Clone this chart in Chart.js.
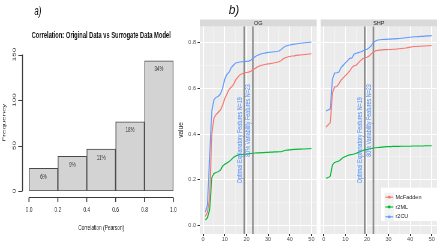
<!DOCTYPE html>
<html>
<head>
<meta charset="utf-8">
<script src="https://cdn.jsdelivr.net/npm/chart.js@4.4.1/dist/chart.umd.min.js"></script>
<style>
  html, body { margin: 0; padding: 0; background: #fff; overflow: hidden; }
  #page { position: relative; width: 440px; height: 242px; }
  #histWrap { position: absolute; left: 0; top: 0; width: 367px; height: 242px; transform: scaleX(0.6); transform-origin: 0 0; }
  canvas { position: absolute; top: 0; }
  #chartOG { left: 170px; }
  #chartSHP { left: 320px; }
</style>
</head>
<body>
<div id="page">
  <div id="histWrap"><canvas id="chartHist" width="367" height="242"></canvas></div>
  <canvas id="chartOG" width="150" height="242"></canvas>
  <canvas id="chartSHP" width="120" height="242"></canvas>
</div>
<script>
// a) histogram of correlations
const histBinCenters = [0.1, 0.3, 0.5, 0.7, 0.9];
const histCounts = [25, 38, 46, 76, 143];
const histPctLabels = ['6%', '9%', '11%', '18%', '34%'];
const histTicksX = [0, 0.2, 0.4, 0.6, 0.8, 1.0];
const histTicksY = [0, 50, 100, 150];

// b) pseudo R2 by number of features
const features = [1, 2, 3, 4, 5, 6, 7, 8, 9, 10, 11, 12, 13, 14, 15, 16, 17, 18, 19, 20,
  21, 22, 23, 24, 25, 26, 27, 28, 29, 30, 31, 32, 33, 34, 35, 36, 37, 38, 39, 40,
  41, 42, 43, 44, 45, 46, 47, 48, 49, 50];
const seriesNames = ['McFadden', 'r2ML', 'r2CU'];
const seriesColors = ['#F8766D', '#00BA38', '#619CFF'];

const ogMcFadden = [0.04, 0.06, 0.12, 0.40, 0.47, 0.485, 0.495, 0.505, 0.525, 0.555, 0.575, 0.595, 0.605, 0.615, 0.635, 0.648, 0.658, 0.663, 0.666, 0.668,
  0.67, 0.674, 0.68, 0.686, 0.692, 0.697, 0.70, 0.702, 0.704, 0.706, 0.707, 0.709, 0.711, 0.713, 0.715, 0.72, 0.728, 0.733, 0.736, 0.738,
  0.74, 0.741, 0.743, 0.744, 0.745, 0.746, 0.747, 0.748, 0.749, 0.75];
const ogR2ML = [0.025, 0.035, 0.07, 0.21, 0.228, 0.232, 0.236, 0.243, 0.26, 0.268, 0.274, 0.28, 0.288, 0.298, 0.304, 0.308, 0.31, 0.311, 0.312, 0.313,
  0.314, 0.315, 0.316, 0.317, 0.318, 0.318, 0.319, 0.319, 0.32, 0.32, 0.321, 0.321, 0.322, 0.322, 0.323, 0.323, 0.326, 0.329, 0.33, 0.331,
  0.332, 0.333, 0.333, 0.334, 0.334, 0.335, 0.335, 0.336, 0.336, 0.337];
const ogR2CU = [0.06, 0.09, 0.30, 0.50, 0.55, 0.56, 0.565, 0.575, 0.60, 0.64, 0.66, 0.67, 0.69, 0.70, 0.71, 0.712, 0.714, 0.715, 0.716, 0.717,
  0.718, 0.722, 0.73, 0.737, 0.743, 0.747, 0.75, 0.752, 0.754, 0.756, 0.757, 0.758, 0.759, 0.76, 0.762, 0.768, 0.777, 0.783, 0.786, 0.788,
  0.79, 0.792, 0.793, 0.795, 0.796, 0.797, 0.798, 0.799, 0.80, 0.80];

const shpMcFadden = [0.43, 0.44, 0.45, 0.58, 0.605, 0.607, 0.62, 0.635, 0.645, 0.655, 0.665, 0.675, 0.69, 0.698, 0.70, 0.71, 0.72, 0.728, 0.732, 0.735,
  0.74, 0.75, 0.758, 0.763, 0.765, 0.766, 0.767, 0.768, 0.768, 0.769, 0.769, 0.77, 0.77, 0.771, 0.772, 0.773, 0.774, 0.775, 0.777, 0.779,
  0.781, 0.782, 0.782, 0.783, 0.783, 0.784, 0.784, 0.785, 0.785, 0.786];
const shpR2ML = [0.207, 0.21, 0.216, 0.265, 0.276, 0.279, 0.282, 0.29, 0.298, 0.302, 0.306, 0.309, 0.311, 0.313, 0.316, 0.32, 0.324, 0.328, 0.331, 0.333,
  0.335, 0.337, 0.339, 0.34, 0.341, 0.342, 0.343, 0.344, 0.345, 0.345, 0.345, 0.346, 0.346, 0.346, 0.346, 0.347, 0.347, 0.347, 0.347, 0.347,
  0.348, 0.348, 0.348, 0.348, 0.348, 0.348, 0.349, 0.349, 0.349, 0.349];
const shpR2CU = [0.50, 0.505, 0.51, 0.64, 0.666, 0.667, 0.67, 0.69, 0.70, 0.71, 0.72, 0.73, 0.732, 0.748, 0.752, 0.755, 0.758, 0.762, 0.766, 0.77,
  0.776, 0.785, 0.80, 0.806, 0.81, 0.811, 0.812, 0.813, 0.813, 0.814, 0.814, 0.815, 0.815, 0.816, 0.817, 0.818, 0.819, 0.82, 0.821, 0.822,
  0.823, 0.824, 0.824, 0.825, 0.826, 0.826, 0.827, 0.828, 0.828, 0.829];

const cutoffs = [19, 23];
const cutoffLabels = ['Optimal Explanatory Features N=19', '80% Variability Features N=23'];
const cutoffLabelX = [17, 21];
const cutoffLabelY = [0.373, 0.459];

const FONT = '"Liberation Sans", Arial, sans-serif';
const font = (size, style = '') => `${style} ${size}px ${FONT}`;

// R-style axes, labels and title for the histogram
const histDecor = {
  id: 'histDecor',
  afterDraw(chart) {
    const { ctx, scales: { x, y } } = chart;
    ctx.save();
    ctx.strokeStyle = '#3a3a3a';
    ctx.fillStyle = '#222';

    const axX = 37.5;
    ctx.lineWidth = 1.6;
    ctx.beginPath();
    ctx.moveTo(axX, y.getPixelForValue(histTicksY[0]));
    ctx.lineTo(axX, y.getPixelForValue(histTicksY[histTicksY.length - 1]));
    ctx.stroke();
    ctx.lineWidth = 1;
    ctx.beginPath();
    histTicksY.forEach((v) => {
      const py = Math.round(y.getPixelForValue(v)) + 0.5;
      ctx.moveTo(axX, py);
      ctx.lineTo(axX - 7, py);
    });
    ctx.stroke();

    ctx.font = font(8);
    ctx.textAlign = 'center';
    ctx.textBaseline = 'middle';
    histTicksY.forEach((v) => {
      ctx.save();
      ctx.translate(23.3, y.getPixelForValue(v));
      ctx.rotate(-Math.PI / 2);
      ctx.fillText(String(v), 0, 0);
      ctx.restore();
    });

    const axY = 197.5;
    ctx.lineWidth = 1;
    ctx.beginPath();
    ctx.moveTo(x.getPixelForValue(0), axY);
    ctx.lineTo(x.getPixelForValue(1), axY);
    ctx.stroke();
    ctx.lineWidth = 1.6;
    ctx.beginPath();
    histTicksX.forEach((v) => {
      const px = x.getPixelForValue(v);
      ctx.moveTo(px, axY);
      ctx.lineTo(px, axY + 4.5);
    });
    ctx.stroke();
    histTicksX.forEach((v) => ctx.fillText(v.toFixed(1), x.getPixelForValue(v), 210));

    ctx.fillText('Correlation (Pearson)', (x.left + x.right) / 2, 228);
    ctx.save();
    ctx.translate(6.7, 122.7);
    ctx.rotate(-Math.PI / 2);
    ctx.fillText('Frequency', 0, 0);
    ctx.restore();

    ctx.font = font(9.6, 'bold');
    ctx.fillStyle = '#111';
    ctx.fillText('Correlation: Original Data vs Surrogate Data Model', (x.left + x.right) / 2, 35.5);

    ctx.font = font(13, 'italic');
    ctx.fillText('a)', 63, 11);

    ctx.font = font(7.5);
    ctx.fillStyle = '#333';
    chart.getDatasetMeta(0).data.forEach((bar, i) => {
      ctx.fillText(histPctLabels[i], bar.x, bar.y + 8.5);
    });
    ctx.restore();
  },
};

new Chart(document.getElementById('chartHist'), {
  type: 'bar',
  data: {
    datasets: [{
      data: histBinCenters.map((x, i) => ({ x, y: histCounts[i] })),
      backgroundColor: '#D3D3D3',
      borderColor: '#4A4A4A',
      borderWidth: { top: 1, bottom: 1, left: 1.4, right: 1.4 },
      borderSkipped: false,
      barPercentage: 1,
      categoryPercentage: 1,
    }],
  },
  options: {
    responsive: false,
    animation: false,
    devicePixelRatio: 1,
    layout: { padding: { left: 48.3, right: 78.1, top: 54.5, bottom: 51 } },
    scales: {
      x: { type: 'linear', min: 0, max: 1, offset: false, display: false, ticks: { stepSize: 0.2 } },
      y: { min: 0, max: 150, display: false },
    },
    plugins: { legend: { display: false }, tooltip: { enabled: false } },
  },
  plugins: [histDecor],
});

// ggplot-like facet panels
const isMajor = (v, step) => Math.abs(v / step - Math.round(v / step)) < 1e-6;

const panelPlugin = {
  id: 'ggPanel',
  beforeDraw(chart, args, opts) {
    const { ctx, chartArea: a } = chart;
    ctx.save();
    ctx.fillStyle = '#EBEBEB';
    ctx.fillRect(a.left, a.top, a.right - a.left, a.bottom - a.top);
    ctx.fillStyle = '#D9D9D9';
    ctx.fillRect(a.left, a.top - 7, a.right - a.left, 7);
    ctx.fillStyle = '#1A1A1A';
    ctx.font = font(5.5);
    ctx.textAlign = 'center';
    ctx.textBaseline = 'middle';
    ctx.fillText(opts.strip, (a.left + a.right) / 2, a.top - 3.3);
    ctx.restore();
  },
  beforeDatasetsDraw(chart) {
    const { ctx, chartArea: a, scales: { x } } = chart;
    ctx.save();
    ctx.strokeStyle = '#8C8C8C';
    ctx.lineWidth = 1.6;
    cutoffs.forEach((c) => {
      const px = x.getPixelForValue(c);
      ctx.beginPath();
      ctx.moveTo(px, a.top);
      ctx.lineTo(px, a.bottom);
      ctx.stroke();
    });
    ctx.restore();
  },
  afterDatasetsDraw(chart) {
    const { ctx, scales: { x, y } } = chart;
    ctx.save();
    ctx.fillStyle = '#4F8FF7';
    ctx.font = font(5.4);
    ctx.textAlign = 'center';
    ctx.textBaseline = 'middle';
    cutoffLabels.forEach((t, i) => {
      ctx.save();
      ctx.translate(x.getPixelForValue(cutoffLabelX[i]), y.getPixelForValue(cutoffLabelY[i]));
      ctx.rotate(-Math.PI / 2);
      ctx.scale(1, 1.25);
      ctx.fillText(t, 0, 0);
      ctx.restore();
    });
    ctx.restore();
  },
  afterDraw(chart, args, opts) {
    const { ctx } = chart;
    ctx.save();
    ctx.fillStyle = '#1A1A1A';
    ctx.textBaseline = 'middle';
    if (opts.extras) {
      ctx.textAlign = 'center';
      ctx.font = font(6.5);
      ctx.save();
      ctx.translate(11.3, 130);
      ctx.rotate(-Math.PI / 2);
      ctx.fillText('value', 0, 0);
      ctx.restore();
      ctx.font = font(12, 'italic');
      ctx.fillText('b)', 64, 11);
    }
    if (opts.legend) {
      ctx.fillStyle = '#FFFFFF';
      ctx.fillRect(61, 187.7, 60, 33.3);
      seriesNames.forEach((name, i) => {
        const cy = 197.2 + i * 9.8;
        ctx.fillStyle = '#F2F2F2';
        ctx.fillRect(64.5, cy - 4.6, 9.5, 9.2);
        ctx.strokeStyle = seriesColors[i];
        ctx.fillStyle = seriesColors[i];
        ctx.lineWidth = 1.1;
        ctx.beginPath();
        ctx.moveTo(65.3, cy);
        ctx.lineTo(73.2, cy);
        ctx.stroke();
        ctx.beginPath();
        ctx.arc(69.25, cy, 1.4, 0, Math.PI * 2);
        ctx.fill();
        ctx.fillStyle = '#1A1A1A';
        ctx.font = font(5.5);
        ctx.textAlign = 'left';
        ctx.fillText(name, 75.5, cy);
      });
    }
    ctx.restore();
  },
};

function panelChart(id, strip, series, showY, padding) {
  return new Chart(document.getElementById(id), {
    type: 'line',
    data: {
      datasets: series.map((vals, i) => ({
        label: seriesNames[i],
        data: features.map((f, j) => ({ x: f, y: vals[j] })),
        borderColor: seriesColors[i],
        borderWidth: 1.1,
        pointRadius: 0,
        tension: 0,
        fill: false,
      })),
    },
    options: {
      responsive: false,
      animation: false,
      devicePixelRatio: 1,
      layout: { padding },
      scales: {
        x: {
          type: 'linear',
          min: -1.45,
          max: 52.45,
          border: { display: false },
          ticks: {
            stepSize: 5, includeBounds: false, autoSkip: false, maxRotation: 0,
            font: { size: 5.5, family: FONT }, color: '#4D4D4D', padding: 0.5,
            callback: (v) => (isMajor(v, 10) ? String(v) : ''),
          },
          grid: {
            color: (c) => (isMajor(c.tick.value, 10) ? '#FFFFFF' : 'rgba(255,255,255,0.65)'),
            lineWidth: (c) => (isMajor(c.tick.value, 10) ? 1 : 0.5),
            tickColor: (c) => (isMajor(c.tick.value, 10) ? '#333333' : 'rgba(0,0,0,0)'),
            tickLength: 2,
          },
          afterFit: (s) => { s.height = 8; s.paddingLeft = 0; s.paddingRight = 0; },
        },
        y: {
          min: -0.036,
          max: 0.869,
          border: { display: false },
          ticks: {
            display: showY, stepSize: 0.1, includeBounds: false, autoSkip: false,
            font: { size: 5.5, family: FONT }, color: '#4D4D4D', padding: 1.5,
            callback: (v) => (isMajor(v, 0.2) ? v.toFixed(1) : ''),
          },
          grid: {
            color: (c) => (isMajor(c.tick.value, 0.2) ? '#FFFFFF' : 'rgba(255,255,255,0.65)'),
            lineWidth: (c) => (isMajor(c.tick.value, 0.2) ? 1 : 0.5),
            tickColor: (c) => (isMajor(c.tick.value, 0.2) ? '#333333' : 'rgba(0,0,0,0)'),
            tickLength: 2.5,
            drawTicks: showY,
          },
          afterFit: (s) => { s.width = showY ? 30 : 0; s.paddingTop = 0; s.paddingBottom = 0; },
        },
      },
      plugins: {
        legend: { display: false },
        tooltip: { enabled: false },
        ggPanel: { strip, legend: !showY, extras: showY },
      },
    },
    plugins: [panelPlugin],
  });
}

panelChart('chartOG', 'OG', [ogMcFadden, ogR2ML, ogR2CU], true, { left: 0, right: 3.3, top: 26.5, bottom: 0 });
panelChart('chartSHP', 'SHP', [shpMcFadden, shpR2ML, shpR2CU], false, { left: 0.7, right: 3, top: 26.5, bottom: 0 });
</script>
</body>
</html>
